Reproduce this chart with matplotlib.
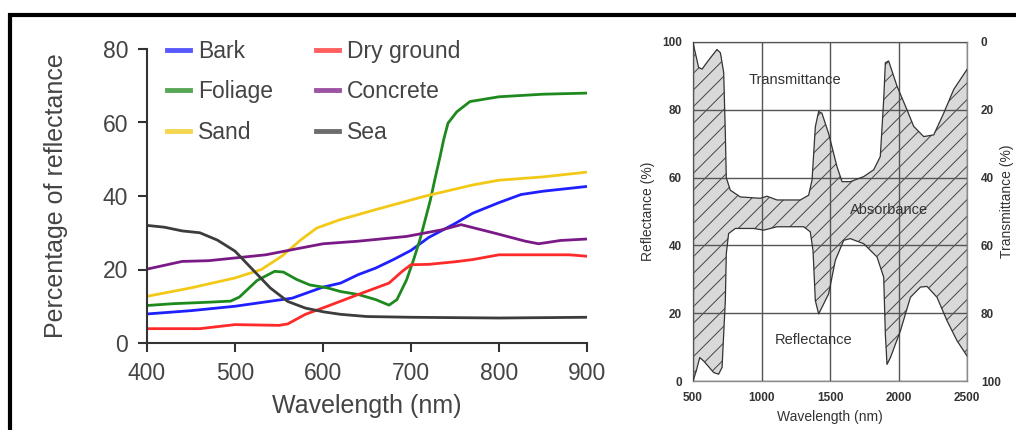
import numpy as np
import matplotlib
matplotlib.use("Agg")
import matplotlib.pyplot as plt
from matplotlib.lines import Line2D
from matplotlib.patches import Rectangle

plt.rcParams['font.family'] = ['Liberation Sans', 'DejaVu Sans']
plt.rcParams['hatch.linewidth'] = 0.7

# ---- left chart: spectral reflectance of surfaces ----
bark_x = [400, 450, 500, 550, 565, 600, 620, 640, 660, 680, 700, 720, 750, 770, 800, 825, 850, 900]
bark_y = [7.9, 8.8, 10, 11.7, 12.2, 15.2, 16.3, 18.6, 20.4, 22.7, 25.2, 28.7, 32.5, 35.3, 38.2, 40.4, 41.3, 42.6]

dry_x = [400, 460, 500, 550, 560, 580, 605, 640, 675, 690, 700, 720, 750, 770, 800, 880, 900]
dry_y = [3.9, 3.9, 5, 4.8, 5.2, 7.8, 10, 13.2, 16.3, 19.5, 21.3, 21.4, 22.1, 22.7, 24, 24, 23.6]

foliage_x = [400, 430, 470, 495, 505, 525, 545, 555, 570, 585, 605, 620, 640, 660, 675, 684,
             695, 703, 710, 714, 722, 727, 733, 737, 742, 752, 767, 800, 850, 900]
foliage_y = [10.2, 10.7, 11.1, 11.4, 12.5, 17, 19.5, 19.3, 17.3, 15.8, 15, 14, 13.2, 11.8, 10.3, 11.8,
             17.2, 22.7, 28, 31.6, 38.9, 44.4, 50.7, 55.2, 59.8, 62.9, 65.7, 67, 67.7, 68]

concrete_x = [400, 440, 470, 535, 565, 600, 640, 695, 735, 757, 795, 830, 845, 870, 900]
concrete_y = [20.1, 22.2, 22.4, 24, 25.4, 27, 27.7, 29, 30.8, 32.2, 29.9, 27.7, 27, 27.9, 28.3]

sand_x = [400, 450, 500, 530, 553, 575, 593, 620, 660, 715, 770, 800, 850, 900]
sand_y = [12.7, 15, 17.7, 20, 23.6, 28.1, 31.3, 33.6, 36.3, 39.9, 43, 44.3, 45.2, 46.5]

sea_x = [400, 420, 440, 460, 480, 500, 520, 540, 560, 580, 600, 620, 650, 700, 800, 900]
sea_y = [32, 31.5, 30.5, 30, 28, 25, 20, 15, 11.3, 9.5, 8.5, 7.8, 7.2, 7, 6.8, 7]

series_names = ['Bark', 'Foliage', 'Sand', 'Dry ground', 'Concrete', 'Sea']
series_colors = ['#2020ff', '#1e8a1e', '#f2c916', '#ff2a2a', '#7a1a86', '#3c3c3c']

# ---- right chart: reflectance / absorbance / transmittance ----
upper_x = [500, 541, 566, 602, 675, 700, 724, 736, 743, 772, 845, 991, 1040, 1113, 1283, 1344,
           1369, 1393, 1417, 1441, 1490, 1551, 1588, 1648, 1746, 1819, 1867, 1892, 1904, 1928,
           1989, 2062, 2111, 2184, 2257, 2330, 2403, 2500]
upper_y = [99.8, 92.5, 92, 94, 97.8, 96.8, 91, 73, 60, 56.3, 54.3, 53.9, 54.5, 53.4, 53.4, 54.8,
           59.3, 75, 79.5, 79, 73, 63.2, 58.8, 58.8, 60.3, 62.3, 66.2, 83, 93.9, 94.4,
           87, 80, 75.1, 72.1, 72.6, 79, 86, 91.9]
lower_x = [500, 524, 549, 578, 651, 687, 712, 736, 743, 760, 809, 943, 1016, 1113, 1308, 1356,
           1376, 1393, 1417, 1441, 1490, 1539, 1600, 1648, 1746, 1843, 1892, 1904, 1916, 1941,
           2014, 2087, 2160, 2208, 2281, 2354, 2427, 2500]
lower_y = [0, 3, 6.9, 5.9, 2.5, 2, 4, 23.7, 37.5, 43.5, 45, 45, 44.5, 45.5, 45.5, 44,
           38.5, 23.7, 19.8, 21.7, 25.7, 35.6, 41.5, 42, 40.5, 36.6, 30.6, 13.8, 4.9, 6.9,
           14.8, 24.7, 27.7, 27.9, 24.7, 17.8, 11.9, 7.4]

fig = plt.figure(figsize=(10.16, 4.3), dpi=100)

# left panel
ax = fig.add_axes([147 / 1016, 1 - 343 / 430, 440 / 1016, 294 / 430])
xs = [bark_x, foliage_x, sand_x, dry_x, concrete_x, sea_x]
ys = [bark_y, foliage_y, sand_y, dry_y, concrete_y, sea_y]
for x, y, c in zip(xs, ys, series_colors):
    ax.plot(x, y, color=c, lw=2.0, solid_joinstyle='round', solid_capstyle='butt')

ax.set_xlim(400, 900)
ax.set_ylim(0, 80)
ax.set_xticks([400, 500, 600, 700, 800, 900])
ax.set_yticks([0, 20, 40, 60, 80])
for s in ['top', 'right']:
    ax.spines[s].set_visible(False)
for s in ['left', 'bottom']:
    ax.spines[s].set_color('#333333')
    ax.spines[s].set_linewidth(1.5)
ax.tick_params(direction='out', length=6.5, width=1.5, color='#333333',
               labelsize=16.5, labelcolor='#444444', pad=7)
ax.set_xlabel('Wavelength (nm)', fontsize=18, color='#444444')
ax.set_ylabel('Percentage of reflectance', fontsize=18, color='#444444')
ax.xaxis.set_label_coords(0.5, -0.175)
ax.yaxis.set_label_coords(-0.18, 0.5)

handles = [Line2D([], [], color=c, lw=3.5, alpha=0.75) for c in series_colors]
ax.legend(handles, series_names, ncol=2, loc='upper left', bbox_to_anchor=(0.045, 1.03),
          frameon=False, fontsize=16.5, labelcolor='#444444', borderpad=0, borderaxespad=0,
          handlelength=1.0, handletextpad=0.35, columnspacing=1.9, labelspacing=0.75)

# right panel
ax2 = fig.add_axes([693 / 1016, 1 - 381 / 430, 274 / 1016, 339 / 430])
ax2.fill(np.concatenate([upper_x, lower_x[::-1]]), np.concatenate([upper_y, lower_y[::-1]]),
         facecolor='#d9d9d9', edgecolor='#444444', hatch='//', lw=0, zorder=1)
ax2.plot(upper_x, upper_y, color='#333333', lw=0.9, zorder=3)
ax2.plot(lower_x, lower_y, color='#333333', lw=0.9, zorder=3)
ax2.set_xlim(500, 2500)
ax2.set_ylim(0, 100)
ax2.set_xticks([500, 1000, 1500, 2000, 2500])
ax2.set_yticks([0, 20, 40, 60, 80, 100])
ax2.set_axisbelow(False)
ax2.grid(True, color='#555555', lw=1.0)
for s in ax2.spines.values():
    s.set_color('#8a8a8a')
    s.set_linewidth(1.0)
ax2.tick_params(length=0, labelsize=8.5, labelcolor='#333333', pad=8)
for lab in ax2.get_xticklabels() + ax2.get_yticklabels():
    lab.set_fontweight('bold')
ax2.set_xlabel('Wavelength (nm)', fontsize=10, color='#333333')
ax2.set_ylabel('Reflectance (%)', fontsize=10, color='#333333')
ax2.xaxis.set_label_coords(0.5, -0.085)
ax2.yaxis.set_label_coords(-0.14, 0.5)

ax3 = ax2.twinx()
ax3.set_ylim(100, 0)
ax3.set_yticks([0, 20, 40, 60, 80, 100])
ax3.tick_params(length=0, labelsize=8.5, labelcolor='#333333', pad=10)
for lab in ax3.get_yticklabels():
    lab.set_fontweight('bold')
for s in ax3.spines.values():
    s.set_visible(False)
ax3.set_ylabel('Transmittance (%)', fontsize=10, color='#333333')
ax3.yaxis.set_label_coords(1.122, 0.53)

ax2.text(1244, 88.8, 'Transmittance', fontsize=10.5, color='#333333', ha='center', va='center', zorder=4)
ax2.text(1931, 50.4, 'Absorbance', fontsize=10.5, color='#333333', ha='center', va='center', zorder=4)
ax2.text(1378, 12.1, 'Reflectance', fontsize=10.5, color='#333333', ha='center', va='center', zorder=4)

# black frame around the figure
fig.add_artist(Rectangle((10 / 1016, -0.2), 1.5, 0.965 + 0.2, transform=fig.transFigure,
                         fill=False, edgecolor='black', lw=3.0, clip_on=False))

fig.savefig('out.png', dpi=100)
